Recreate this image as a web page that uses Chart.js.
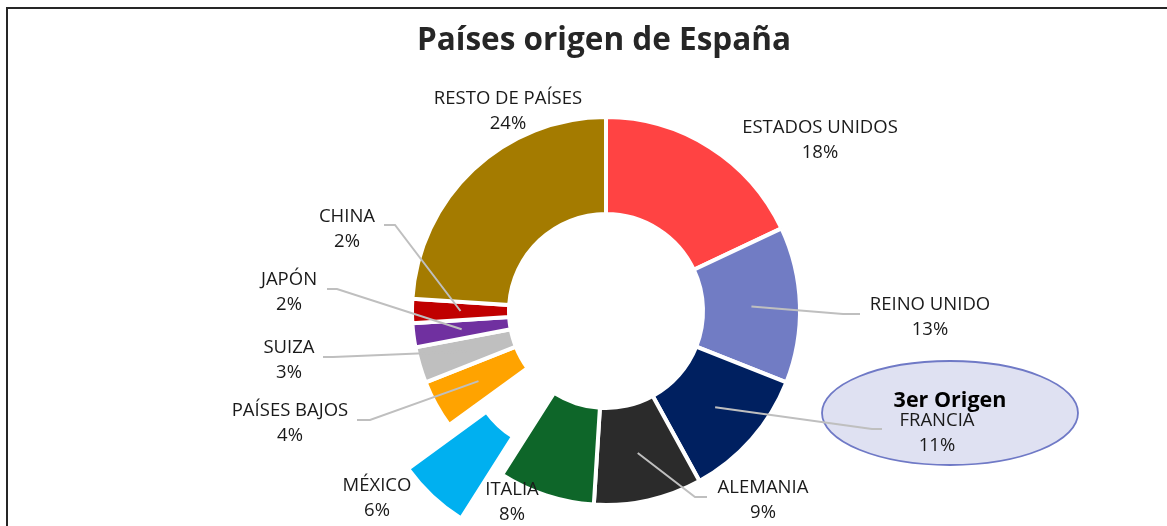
<!DOCTYPE html>
<html>
<head>
<meta charset="utf-8">
<script src="https://cdn.jsdelivr.net/npm/chart.js@4.4.1/dist/chart.umd.min.js"></script>
<style>
  html, body { margin: 0; padding: 0; background: #ffffff; }
  canvas { display: block; }
</style>
</head>
<body>
<canvas id="c" width="1167" height="526"></canvas>
<script>
// ---- data ----
const categories = ['ESTADOS UNIDOS', 'REINO UNIDO', 'FRANCIA', 'ALEMANIA', 'ITALIA', 'MÉXICO',
                    'PAÍSES BAJOS', 'SUIZA', 'JAPÓN', 'CHINA', 'RESTO DE PAÍSES'];
const shares = [18, 13, 11, 9, 8, 6, 4, 3, 2, 2, 24];
const colors = ['#FF4343', '#717CC4', '#002060', '#2B2B2B', '#0E6629', '#00B0F0',
                '#FFA300', '#BFBFBF', '#7030A0', '#C00000', '#A47B00'];
const titleText = 'Países origen de España';
const calloutText = '3er Origen';
const calloutIndex = 2;     // FRANCIA
const explodedIndex = 5;    // MÉXICO

// ---- layout (label placement, not data) ----
const labelPos = [
  [820, 126], [930, 303], [937, 419], [763, 486], [512, 488], [377, 484],
  [290, 409], [289, 346], [289, 278], [347, 215], [508, 97]
];
// leader lines: [labelSidePoint, elbowPoint] or null
const leaders = [
  null,
  [[860, 314], [843, 314]],
  [[882, 429], [872, 429]],
  [[707, 497], [695, 497]],
  null,
  null,
  [[357, 420], [370, 420]],
  [[323, 357], [333, 357]],
  [[327, 289], [337, 289]],
  [[384, 225], [395, 225]],
  null
];
const explodeDist = 60;
const labelFont = '18.5px "Open Sans"';
const textColor = '#1A1A1A';

const total = shares.reduce((a, b) => a + b, 0);

const decorPlugin = {
  id: 'decor',
  beforeDraw(chart) {
    const ctx = chart.ctx;
    ctx.save();
    ctx.fillStyle = '#ffffff';
    ctx.fillRect(0, 0, chart.width, chart.height);
    // frame
    ctx.strokeStyle = '#262626';
    ctx.lineWidth = 2;
    ctx.beginPath();
    ctx.moveTo(1167, 8);
    ctx.lineTo(7, 8);
    ctx.lineTo(7, 526);
    ctx.stroke();
    // title
    ctx.fillStyle = '#262626';
    ctx.font = 'bold 31.5px "Open Sans"';
    ctx.textAlign = 'center';
    ctx.textBaseline = 'alphabetic';
    ctx.fillText(titleText, 604, 50);
    ctx.restore();
  },
  beforeDatasetsDraw(chart) {
    const arc = chart.getDatasetMeta(0).data[explodedIndex];
    const mid = (arc.startAngle + arc.endAngle) / 2;
    arc._ox = arc.x; arc._oy = arc.y;
    arc.x = arc._ox + Math.cos(mid) * explodeDist;
    arc.y = arc._oy + Math.sin(mid) * explodeDist;
  },
  afterDatasetsDraw(chart) {
    const ctx = chart.ctx;
    const meta = chart.getDatasetMeta(0);
    const exp = meta.data[explodedIndex];
    exp.x = exp._ox; exp.y = exp._oy;

    ctx.save();
    // callout ellipse
    ctx.beginPath();
    ctx.ellipse(950, 413, 128, 52, 0, 0, Math.PI * 2);
    ctx.fillStyle = '#DFE1F2';
    ctx.fill();
    ctx.strokeStyle = '#6F79C6';
    ctx.lineWidth = 1.8;
    ctx.stroke();

    // leader lines
    ctx.strokeStyle = '#BFBFBF';
    ctx.lineWidth = 2;
    meta.data.forEach((arc, i) => {
      const l = leaders[i];
      if (!l) return;
      const p = arc.getCenterPoint();
      ctx.beginPath();
      ctx.moveTo(l[0][0], l[0][1]);
      ctx.lineTo(l[1][0], l[1][1]);
      ctx.lineTo(p.x, p.y);
      ctx.stroke();
    });

    // labels
    ctx.fillStyle = textColor;
    ctx.font = labelFont;
    ctx.textAlign = 'center';
    ctx.textBaseline = 'alphabetic';
    categories.forEach((name, i) => {
      const [x, y] = labelPos[i];
      const pct = Math.round(shares[i] / total * 100) + '%';
      ctx.fillText(name, x, y + 6.6);
      ctx.fillText(pct, x, y + 25.5 + 6.6);
    });

    // callout text
    ctx.fillStyle = '#000000';
    ctx.font = 'bold 21.5px "Open Sans"';
    ctx.fillText(calloutText, 950, 407);
    ctx.restore();
  }
};

new Chart(document.getElementById('c'), {
  type: 'doughnut',
  data: {
    labels: categories,
    datasets: [{
      data: shares,
      backgroundColor: colors,
      borderColor: '#ffffff',
      borderWidth: 4
    }]
  },
  options: {
    responsive: false,
    animation: false,
    events: [],
    radius: 194,
    cutout: '50%',
    layout: { padding: { left: 45, right: 0, top: 96, bottom: 0 } },
    plugins: {
      legend: { display: false },
      tooltip: { enabled: false },
      title: { display: false }
    }
  },
  plugins: [decorPlugin]
});
</script>
</body>
</html>
